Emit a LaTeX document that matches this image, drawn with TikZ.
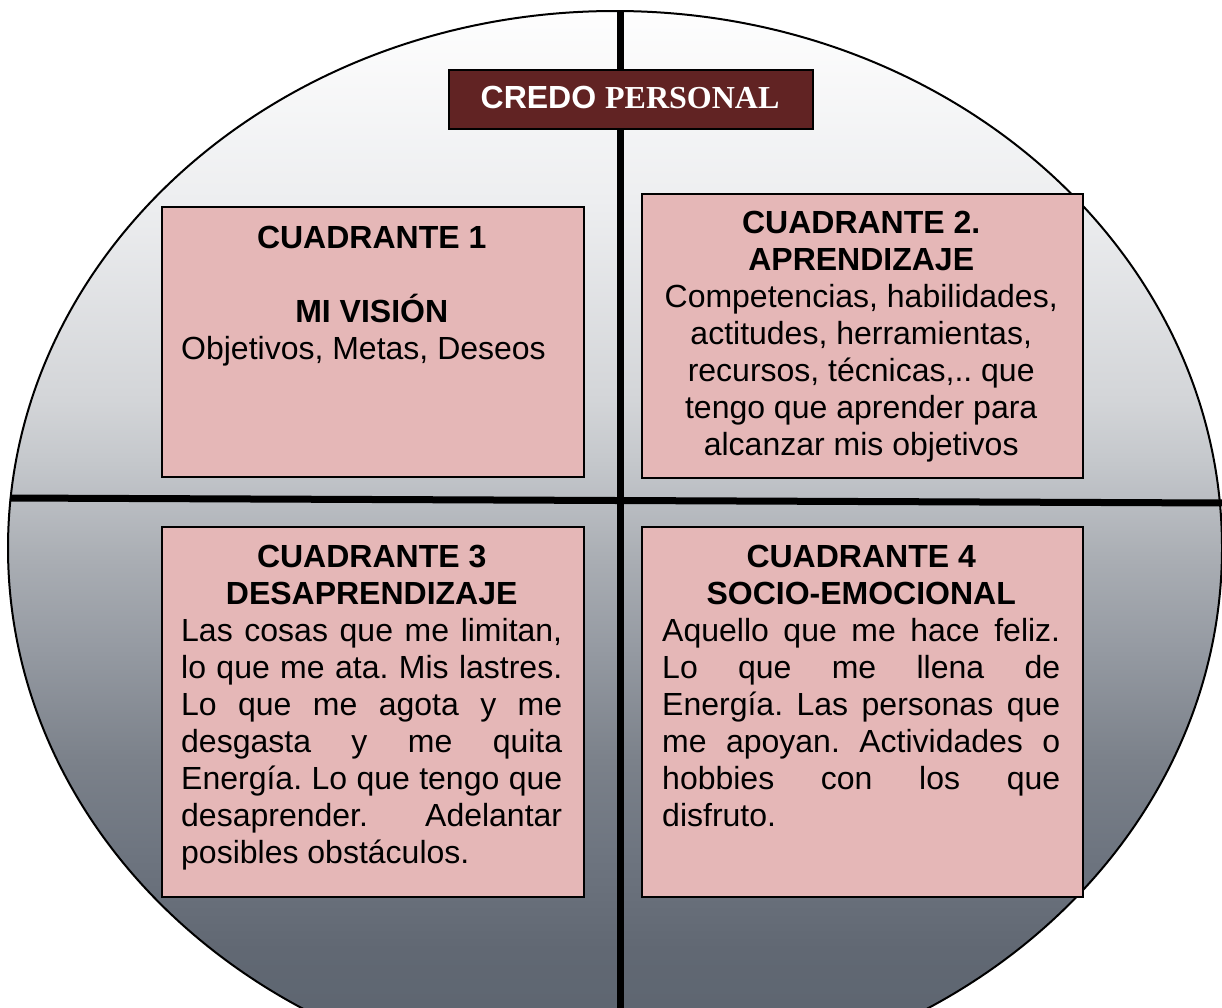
\documentclass[tikz,border=0pt]{standalone}
\usepackage{fontspec}
\setmainfont{Liberation Sans}
\newfontfamily\serifbf{Liberation Serif}
\frenchspacing
\definecolor{boxpink}{HTML}{E5B7B7}
\definecolor{titlered}{HTML}{612323}
\definecolor{sa}{HTML}{5B6270}
\definecolor{sb}{HTML}{5E6671}
\definecolor{sc}{HTML}{616873}
\definecolor{sd}{HTML}{6E7580}
\definecolor{se}{HTML}{7B818A}
\definecolor{sf}{HTML}{959AA2}
\definecolor{sg}{HTML}{A9ADB3}
\definecolor{sh}{HTML}{C5C8CC}
\definecolor{si}{HTML}{D3D5D8}
\definecolor{sj}{HTML}{EDEEF0}
\definecolor{sk}{HTML}{FEFEFE}
\pgfdeclareverticalshading{ellshade}{100bp}{color(0bp)=(sa); color(25bp)=(sa); color(28.6bp)=(sb); color(31.3bp)=(sc); color(35.9bp)=(sd); color(40.1bp)=(se); color(45.3bp)=(sf); color(49.4bp)=(sg); color(54.1bp)=(sh); color(56.9bp)=(si); color(66.2bp)=(sj); color(75bp)=(sk); color(100bp)=(sk)}
\newcommand\jline[1]{\makebox[\linewidth][s]{#1}}
\newcommand\lline[1]{\makebox[\linewidth][l]{#1}}
\tikzset{
  quad/.style={draw=black, line width=2pt, fill=boxpink, inner sep=0pt, anchor=north west},
  txt/.style={inner sep=0pt, anchor=base west, font=\fontsize{32}{37}\selectfont},
  axisline/.style={line width=7pt, black}
}
\begin{document}
\begin{tikzpicture}[x=1pt,y=-1pt]
\useasboundingbox (0,0) rectangle (1222,1007);
\clip (0,0) rectangle (1222,1007);
% ellipse
\path[shading=ellshade] (615,548) ellipse [x radius=607, y radius=537];
\draw[line width=2pt] (615,548) ellipse [x radius=607, y radius=537];
% axes
\coordinate (vtop) at (620,11);
\coordinate (vbot) at (620,1010);
\coordinate (hl) at (10,498);
\coordinate (hr) at (1225,503);
\draw[axisline] (vtop) -- (vbot);
\draw[axisline] (hl) -- (hr);
% boxes
\node[quad, minimum width=422pt, minimum height=270pt] (q1) at (161,206) {};
\node[quad, minimum width=441pt, minimum height=284pt] (q2) at (641,193) {};
\node[quad, minimum width=422pt, minimum height=370pt] (q3) at (161,526) {};
\node[quad, minimum width=441pt, minimum height=370pt] (q4) at (641,526) {};
% title
\node[draw=black, line width=2pt, fill=titlered, inner sep=0pt, anchor=north west,
      minimum width=364pt, minimum height=59pt] (tbox) at (448,69) {};
\node[inner sep=0pt, anchor=base, text=white, font=\fontsize{32}{37}\selectfont\bfseries] (ttl) at (630,108.5) {CREDO {\serifbf PERSONAL}};
% texts
\node[txt] (t1) at (181,248) {\parbox[t]{381pt}{\centering\bfseries CUADRANTE 1\\[37pt] MI VISIÓN\\ \mdseries\lline{Objetivos, Metas, Deseos}}};
\node[txt] (t2) at (661,233) {\parbox[t]{400pt}{\centering\bfseries CUADRANTE 2.\\ APRENDIZAJE\\ \mdseries Competencias, habilidades,\\ actitudes, herramientas,\\ recursos, técnicas,.. que\\ tengo que aprender para\\ alcanzar mis objetivos}};
\node[txt] (t3) at (181,567) {\parbox[t]{381pt}{\centering\bfseries CUADRANTE 3\\ DESAPRENDIZAJE\\ \mdseries
\jline{Las cosas que me limitan,}\\
\jline{lo que me ata. Mis lastres.}\\
\jline{Lo que me agota y me}\\
\jline{desgasta y me quita}\\
\jline{Energía. Lo que tengo que}\\
\jline{desaprender. Adelantar}\\
\lline{posibles obstáculos.}}};
\node[txt] (t4) at (662,567) {\parbox[t]{398pt}{\centering\bfseries CUADRANTE 4\\ SOCIO-EMOCIONAL\\ \mdseries
\jline{Aquello que me hace feliz.}\\
\jline{Lo que me llena de}\\
\jline{Energía. Las personas que}\\
\jline{me apoyan. Actividades o}\\
\jline{hobbies con los que}\\
\lline{disfruto.}}};
\end{tikzpicture}
\end{document}
